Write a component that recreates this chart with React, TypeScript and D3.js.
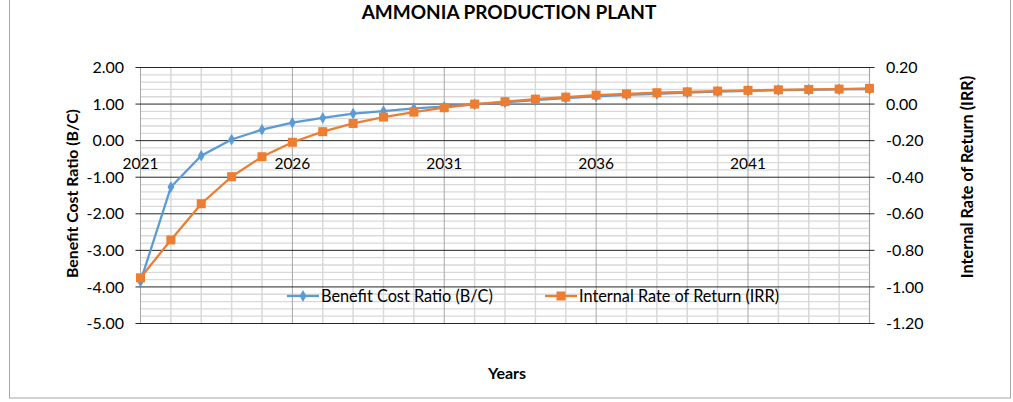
import React, { useEffect, useRef } from "react";
import * as d3 from "d3";

// years on the category axis
const years = [2021, 2022, 2023, 2024, 2025, 2026, 2027, 2028, 2029, 2030, 2031, 2032, 2033,
  2034, 2035, 2036, 2037, 2038, 2039, 2040, 2041, 2042, 2043, 2044, 2045];
const yearLabels = [2021, 2026, 2031, 2036, 2041];

// Benefit Cost Ratio (left axis)
const bcr = [-3.85, -1.27, -0.41, 0.03, 0.3, 0.49, 0.62, 0.74, 0.81, 0.88, 0.93, 0.99, 1.05,
  1.11, 1.16, 1.21, 1.25, 1.28, 1.31, 1.34, 1.36, 1.38, 1.39, 1.4, 1.41];

// Internal Rate of Return (right axis)
const irr = [-0.95, -0.743, -0.545, -0.397, -0.288, -0.209, -0.151, -0.106, -0.071, -0.044,
  -0.02, 0.0, 0.013, 0.027, 0.038, 0.049, 0.056, 0.062, 0.067, 0.071, 0.075, 0.078, 0.08,
  0.082, 0.086];

const leftTicks = [2, 1, 0, -1, -2, -3, -4, -5];
const rightTicks = [0.2, 0, -0.2, -0.4, -0.6, -0.8, -1.0, -1.2];

const blue = "#5b9bd5";
const orange = "#ed7d31";
const font = "Lato, 'Open Sans', sans-serif";

// plain hyphen for negatives, like the spreadsheet
const fmt = d3.formatLocale({ decimal: ".", thousands: ",", grouping: [3], currency: ["", ""], minus: "-" }).format(".2f");

export default function App() {
  const svgRef = useRef<SVGSVGElement>(null);

  useEffect(() => {
    const width = 1013;
    const height = 402;
    const svg = d3.select(svgRef.current);
    svg.selectAll("*").remove();

    const left = 140.5, right = 869.5, top = 67.5, bottom = 323.5;

    const x = d3.scaleLinear().domain([2021, 2045]).range([left, right]);
    const yL = d3.scaleLinear().domain([-5, 2]).range([bottom, top]);
    const yR = d3.scaleLinear().domain([-1.2, 0.2]).range([bottom, top]);

    // chart border
    svg.append("rect")
      .attr("x", 9.5).attr("y", -2).attr("width", 1001).attr("height", 400)
      .attr("fill", "white").attr("stroke", "#a6a6a6").attr("stroke-width", 1);

    // minor horizontal grid
    const minor = d3.range(-5, 2.001, 0.2).filter(v => Math.abs(v - Math.round(v)) > 0.01);
    svg.append("g").selectAll("line").data(minor).enter().append("line")
      .attr("x1", left).attr("x2", right)
      .attr("y1", d => yL(d)).attr("y2", d => yL(d))
      .attr("stroke", "#d9d9d9").attr("stroke-width", 1.3);

    // vertical grid
    svg.append("g").selectAll("line").data(years).enter().append("line")
      .attr("x1", d => x(d)).attr("x2", d => x(d))
      .attr("y1", top).attr("y2", bottom)
      .attr("stroke", d => ((d - 2021) % 5 === 0 ? "#a6a6a6" : "#d9d9d9"))
      .attr("stroke-width", d => ((d - 2021) % 5 === 0 ? 1 : 1.5));

    svg.append("line")
      .attr("x1", right).attr("x2", right).attr("y1", top).attr("y2", bottom)
      .attr("stroke", "#a6a6a6");

    // major horizontal grid + ticks
    svg.append("g").selectAll("line").data(leftTicks).enter().append("line")
      .attr("x1", left - 5).attr("x2", right + 5)
      .attr("y1", d => yL(d)).attr("y2", d => yL(d))
      .attr("stroke", "#262626").attr("stroke-width", 1);

    // left axis labels
    svg.append("g").selectAll("text").data(leftTicks).enter().append("text")
      .attr("x", 124).attr("y", d => yL(d)).attr("dy", "0.35em")
      .attr("text-anchor", "end")
      .style("font-family", font).style("font-size", "16px").attr("fill", "#000")
      .text(d => fmt(d));

    // right axis labels
    svg.append("g").selectAll("text").data(rightTicks).enter().append("text")
      .attr("x", 886).attr("y", d => yR(d)).attr("dy", "0.35em")
      .attr("text-anchor", "start")
      .style("font-family", font).style("font-size", "16px").attr("fill", "#000")
      .text(d => fmt(Math.abs(d) < 1e-9 ? 0 : d));

    // year labels below the zero line
    svg.append("g").selectAll("text").data(yearLabels).enter().append("text")
      .attr("x", d => x(d)).attr("y", yL(0) + 28)
      .attr("text-anchor", "middle")
      .style("font-family", font).style("font-size", "15.5px").attr("fill", "#000")
      .text(d => String(d));

    // series lines
    const lineL = d3.line<number>().x((d, i) => x(years[i])).y(d => yL(d));
    const lineR = d3.line<number>().x((d, i) => x(years[i])).y(d => yR(d));

    svg.append("path").attr("d", lineL(bcr)!)
      .attr("fill", "none").attr("stroke", blue).attr("stroke-width", 2.25);
    svg.append("g").selectAll("path").data(bcr).enter().append("path")
      .attr("d", d3.symbol(d3.symbolDiamond, 40)()!)
      .attr("transform", (d, i) => `translate(${x(years[i])},${yL(d)})`)
      .attr("fill", blue);

    svg.append("path").attr("d", lineR(irr)!)
      .attr("fill", "none").attr("stroke", orange).attr("stroke-width", 2.25);
    svg.append("g").selectAll("rect").data(irr).enter().append("rect")
      .attr("x", (d, i) => x(years[i]) - 4.5).attr("y", d => yR(d) - 4.5)
      .attr("width", 9).attr("height", 9)
      .attr("fill", orange);

    // legend
    const legend = [
      { label: "Benefit Cost Ratio (B/C)", color: blue, x: 287, sq: false },
      { label: "Internal Rate of Return (IRR)", color: orange, x: 545, sq: true },
    ];
    const ly = 296;
    legend.forEach(l => {
      svg.append("line").attr("x1", l.x).attr("x2", l.x + 32).attr("y1", ly).attr("y2", ly)
        .attr("stroke", l.color).attr("stroke-width", 2.25);
      if (l.sq) {
        svg.append("rect").attr("x", l.x + 11.5).attr("y", ly - 4.5).attr("width", 9).attr("height", 9)
          .attr("fill", l.color);
      } else {
        svg.append("path").attr("d", d3.symbol(d3.symbolDiamond, 40)()!)
          .attr("transform", `translate(${l.x + 16},${ly})`).attr("fill", l.color);
      }
      svg.append("text").attr("x", l.x + 34).attr("y", ly).attr("dy", "0.35em")
        .style("font-family", font).style("font-size", "16.3px").attr("fill", "#000")
        .text(l.label);
    });

    // titles
    svg.append("text").attr("x", 509).attr("y", 19).attr("text-anchor", "middle")
      .style("font-family", font).style("font-size", "19px").style("font-weight", "bold")
      .text("AMMONIA PRODUCTION PLANT");

    svg.append("text").attr("x", 507).attr("y", 379).attr("text-anchor", "middle")
      .style("font-family", font).style("font-size", "16px").style("font-weight", "bold")
      .text("Years");

    svg.append("text")
      .attr("transform", `translate(78,${(top + bottom) / 2 - 2}) rotate(-90)`)
      .attr("text-anchor", "middle")
      .style("font-family", font).style("font-size", "15.8px").style("font-weight", "bold")
      .text("Benefit Cost Ratio (B/C)");

    svg.append("text")
      .attr("transform", `translate(973,177) rotate(-90)`)
      .attr("text-anchor", "middle")
      .style("font-family", font).style("font-size", "16.2px").style("font-weight", "bold")
      .text("Internal Rate of Return (IRR)");

    svg.attr("width", width).attr("height", height);
  }, []);

  return (
    <div style={{ position: "absolute", left: 0, top: 0 }}>
      <svg ref={svgRef} width={1013} height={402} style={{ display: "block" }} />
    </div>
  );
}
